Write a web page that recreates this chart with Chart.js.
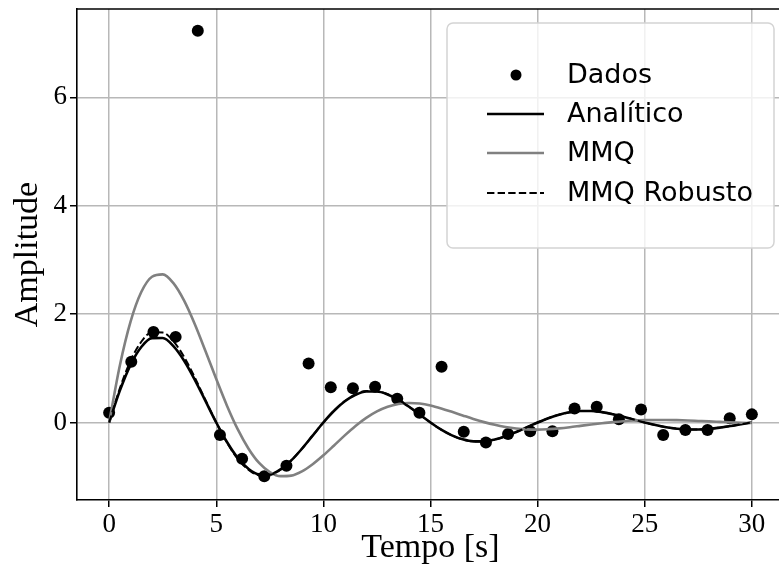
<!DOCTYPE html>
<html>
<head>
<meta charset="utf-8">
<script src="https://cdn.jsdelivr.net/npm/chart.js@4.4.1/dist/chart.umd.min.js"></script>
<style>
  html, body { margin: 0; padding: 0; background: #fff; overflow: hidden; }
  #wrap { position: absolute; left: 0; top: 0; width: 790px; height: 574px; }
</style>
</head>
<body>
<div id="wrap"><canvas id="chart" width="790" height="574"></canvas></div>
<script>
// ==================== DATA ====================
// measured samples (30 points, 0..30 s)
const tDados = [0, 1.034, 2.069, 3.103, 4.138, 5.172, 6.207, 7.241, 8.276, 9.310,
    10.345, 11.379, 12.414, 13.448, 14.483, 15.517, 16.552, 17.586, 18.621, 19.655,
    20.690, 21.724, 22.759, 23.793, 24.828, 25.862, 26.897, 27.931, 28.966, 30];
const yDados = [0.18, 1.12, 1.67, 1.58, 7.23, -0.23, -0.67, -0.99, -0.80, 1.09,
    0.65, 0.63, 0.66, 0.44, 0.18, 1.03, -0.17, -0.37, -0.21, -0.16,
    -0.16, 0.26, 0.29, 0.06, 0.24, -0.23, -0.14, -0.14, 0.08, 0.15];

// curves every 0.5 s
const tCurve = [0, 0.5, 1, 1.5, 2, 2.5, 3, 3.5, 4, 4.5,
    5, 5.5, 6, 6.5, 7, 7.5, 8, 8.5, 9, 9.5,
    10, 10.5, 11, 11.5, 12, 12.5, 13, 13.5, 14, 14.5,
    15, 15.5, 16, 16.5, 17, 17.5, 18, 18.5, 19, 19.5,
    20, 20.5, 21, 21.5, 22, 22.5, 23, 23.5, 24, 24.5,
    25, 25.5, 26, 26.5, 27, 27.5, 28, 28.5, 29, 29.5, 30];
const yAnalitico = [0, 0.588, 1.064, 1.393, 1.557, 1.558, 1.409, 1.140, 0.788, 0.394,
    0, -0.360, -0.652, -0.855, -0.958, -0.958, -0.866, -0.700, -0.484, -0.242,
    0, 0.216, 0.391, 0.512, 0.573, 0.573, 0.518, 0.419, 0.290, 0.145,
    0, -0.131, -0.237, -0.311, -0.348, -0.348, -0.314, -0.254, -0.176, -0.088,
    0, 0.080, 0.144, 0.188, 0.211, 0.211, 0.191, 0.154, 0.107, 0.053,
    0, -0.048, -0.087, -0.114, -0.128, -0.128, -0.116, -0.094, -0.065, -0.032, 0];
const yMMQ = [0, 1.053, 1.862, 2.407, 2.690, 2.733, 2.571, 2.248, 1.813, 1.315,
    0.803, 0.311, -0.123, -0.479, -0.747, -0.914, -0.989, -0.980, -0.902, -0.771,
    -0.606, -0.423, -0.237, -0.063, 0.086, 0.205, 0.291, 0.343, 0.361, 0.350,
    0.314, 0.260, 0.197, 0.131, 0.066, 0.007, -0.043, -0.082, -0.110, -0.127,
    -0.131, -0.123, -0.108, -0.087, -0.062, -0.037, -0.014, 0.007, 0.024, 0.036,
    0.044, 0.047, 0.047, 0.043, 0.037, 0.029, 0.021, 0.012, 0.003, -0.004, -0.010];
const yRobusto = [0, 0.630, 1.140, 1.490, 1.665, 1.660, 1.500, 1.210, 0.830, 0.410,
    0, -0.370, -0.668, -0.870, -0.970, -0.965, -0.870, -0.700, -0.482, -0.240,
    0, 0.218, 0.395, 0.518, 0.580, 0.578, 0.522, 0.421, 0.291, 0.145,
    0, -0.132, -0.239, -0.313, -0.350, -0.350, -0.315, -0.255, -0.177, -0.088,
    0, 0.081, 0.145, 0.189, 0.212, 0.212, 0.192, 0.155, 0.107, 0.053,
    0, -0.048, -0.087, -0.114, -0.128, -0.128, -0.116, -0.094, -0.065, -0.032, 0];

const xTicks = [0, 5, 10, 15, 20, 25, 30];
const yTicks = [0, 2, 4, 6];

const serif = "'Liberation Serif', 'Times New Roman', serif";
const sans = "'DejaVu Sans', sans-serif";

function pts(xs, ys) {
    return xs.map((x, i) => ({ x: x, y: ys[i] }));
}

// top spine
const topSpine = {
    id: 'topSpine',
    afterDatasetsDraw(chart) {
        const a = chart.chartArea, ctx = chart.ctx;
        ctx.save();
        ctx.strokeStyle = '#000';
        ctx.lineWidth = 1.6;
        ctx.beginPath();
        ctx.moveTo(a.left, a.top);
        ctx.lineTo(a.right, a.top);
        ctx.stroke();
        ctx.restore();
    }
};

// matplotlib style legend box in the upper right
const boxLegend = {
    id: 'boxLegend',
    afterDraw(chart) {
        const ctx = chart.ctx;
        const x0 = 447, y0 = 23, w = 327, h = 225, r = 6;
        ctx.save();
        ctx.beginPath();
        ctx.roundRect(x0, y0, w, h, r);
        ctx.fillStyle = 'rgba(255,255,255,0.8)';
        ctx.fill();
        ctx.strokeStyle = '#d4d4d4';
        ctx.lineWidth = 1.5;
        ctx.stroke();

        const rows = [75, 114, 153, 193];
        ctx.font = '27px ' + sans;
        ctx.textBaseline = 'middle';
        ctx.textAlign = 'left';
        chart.data.datasets.forEach((ds, i) => {
            const y = rows[i];
            if (ds.showLine === false) {
                ctx.beginPath();
                ctx.arc(516, y, 5.5, 0, Math.PI * 2);
                ctx.fillStyle = ds.backgroundColor;
                ctx.fill();
            } else {
                ctx.beginPath();
                ctx.setLineDash(ds.borderDash || []);
                ctx.strokeStyle = ds.borderColor;
                ctx.lineWidth = ds.borderWidth;
                ctx.moveTo(487, y);
                ctx.lineTo(544, y);
                ctx.stroke();
                ctx.setLineDash([]);
            }
            ctx.fillStyle = '#000';
            ctx.fillText(ds.label, 567, y + 1);
        });
        ctx.restore();
    }
};

function noPad(s) {
    s.paddingTop = 0;
    s.paddingBottom = 0;
    s.paddingLeft = 0;
    s.paddingRight = 0;
}

new Chart(document.getElementById('chart').getContext('2d'), {
    type: 'scatter',
    data: {
        datasets: [
            {
                label: 'Dados',
                data: pts(tDados, yDados),
                showLine: false,
                backgroundColor: '#000',
                borderColor: '#000',
                pointRadius: 6,
                pointBorderWidth: 0,
                order: 4
            },
            {
                label: 'Analítico',
                data: pts(tCurve, yAnalitico),
                showLine: true,
                borderColor: '#000',
                backgroundColor: '#000',
                borderWidth: 2.6,
                pointRadius: 0,
                cubicInterpolationMode: 'monotone',
                order: 3
            },
            {
                label: 'MMQ',
                data: pts(tCurve, yMMQ),
                showLine: true,
                borderColor: '#808080',
                backgroundColor: '#808080',
                borderWidth: 2.6,
                pointRadius: 0,
                cubicInterpolationMode: 'monotone',
                order: 2
            },
            {
                label: 'MMQ Robusto',
                data: pts(tCurve, yRobusto),
                showLine: true,
                borderColor: '#000',
                backgroundColor: '#000',
                borderWidth: 2,
                borderDash: [7.4, 3.2],
                pointRadius: 0,
                cubicInterpolationMode: 'monotone',
                order: 1
            }
        ]
    },
    options: {
        responsive: false,
        animation: false,
        devicePixelRatio: 1,
        layout: { padding: { top: 9, right: 2, left: 0, bottom: 0 } },
        plugins: {
            legend: { display: false },
            tooltip: { enabled: false }
        },
        scales: {
            x: {
                type: 'linear',
                min: -1.5,
                max: 31.5,
                afterFit: s => { s.height = 74; noPad(s); },
                afterBuildTicks: s => { s.ticks = xTicks.map(v => ({ value: v })); },
                ticks: {
                    color: '#000',
                    font: { family: serif, size: 27 },
                    padding: 2,
                    maxRotation: 0,
                    callback: v => String(v)
                },
                grid: {
                    color: '#b8b8b8',
                    lineWidth: 1.5,
                    tickColor: '#000',
                    tickLength: 7,
                    tickWidth: 1.5
                },
                border: { color: '#000', width: 1.6 },
                title: {
                    display: true,
                    text: 'Tempo [s]',
                    color: '#000',
                    font: { family: serif, size: 34 },
                    padding: { top: 0, bottom: 6 }
                }
            },
            y: {
                type: 'linear',
                min: -1.43,
                max: 7.63,
                afterFit: s => { s.width = 77; noPad(s); },
                afterBuildTicks: s => { s.ticks = yTicks.map(v => ({ value: v })); },
                ticks: {
                    color: '#000',
                    font: { family: serif, size: 27 },
                    padding: 3,
                    callback: v => String(v)
                },
                grid: {
                    color: '#b8b8b8',
                    lineWidth: 1.5,
                    tickColor: '#000',
                    tickLength: 7,
                    tickWidth: 1.5
                },
                border: { color: '#000', width: 1.6 },
                title: {
                    display: true,
                    text: 'Amplitude',
                    color: '#000',
                    font: { family: serif, size: 34 },
                    padding: { top: 8, bottom: 0 }
                }
            }
        }
    },
    plugins: [topSpine, boxLegend]
});
</script>
</body>
</html>
